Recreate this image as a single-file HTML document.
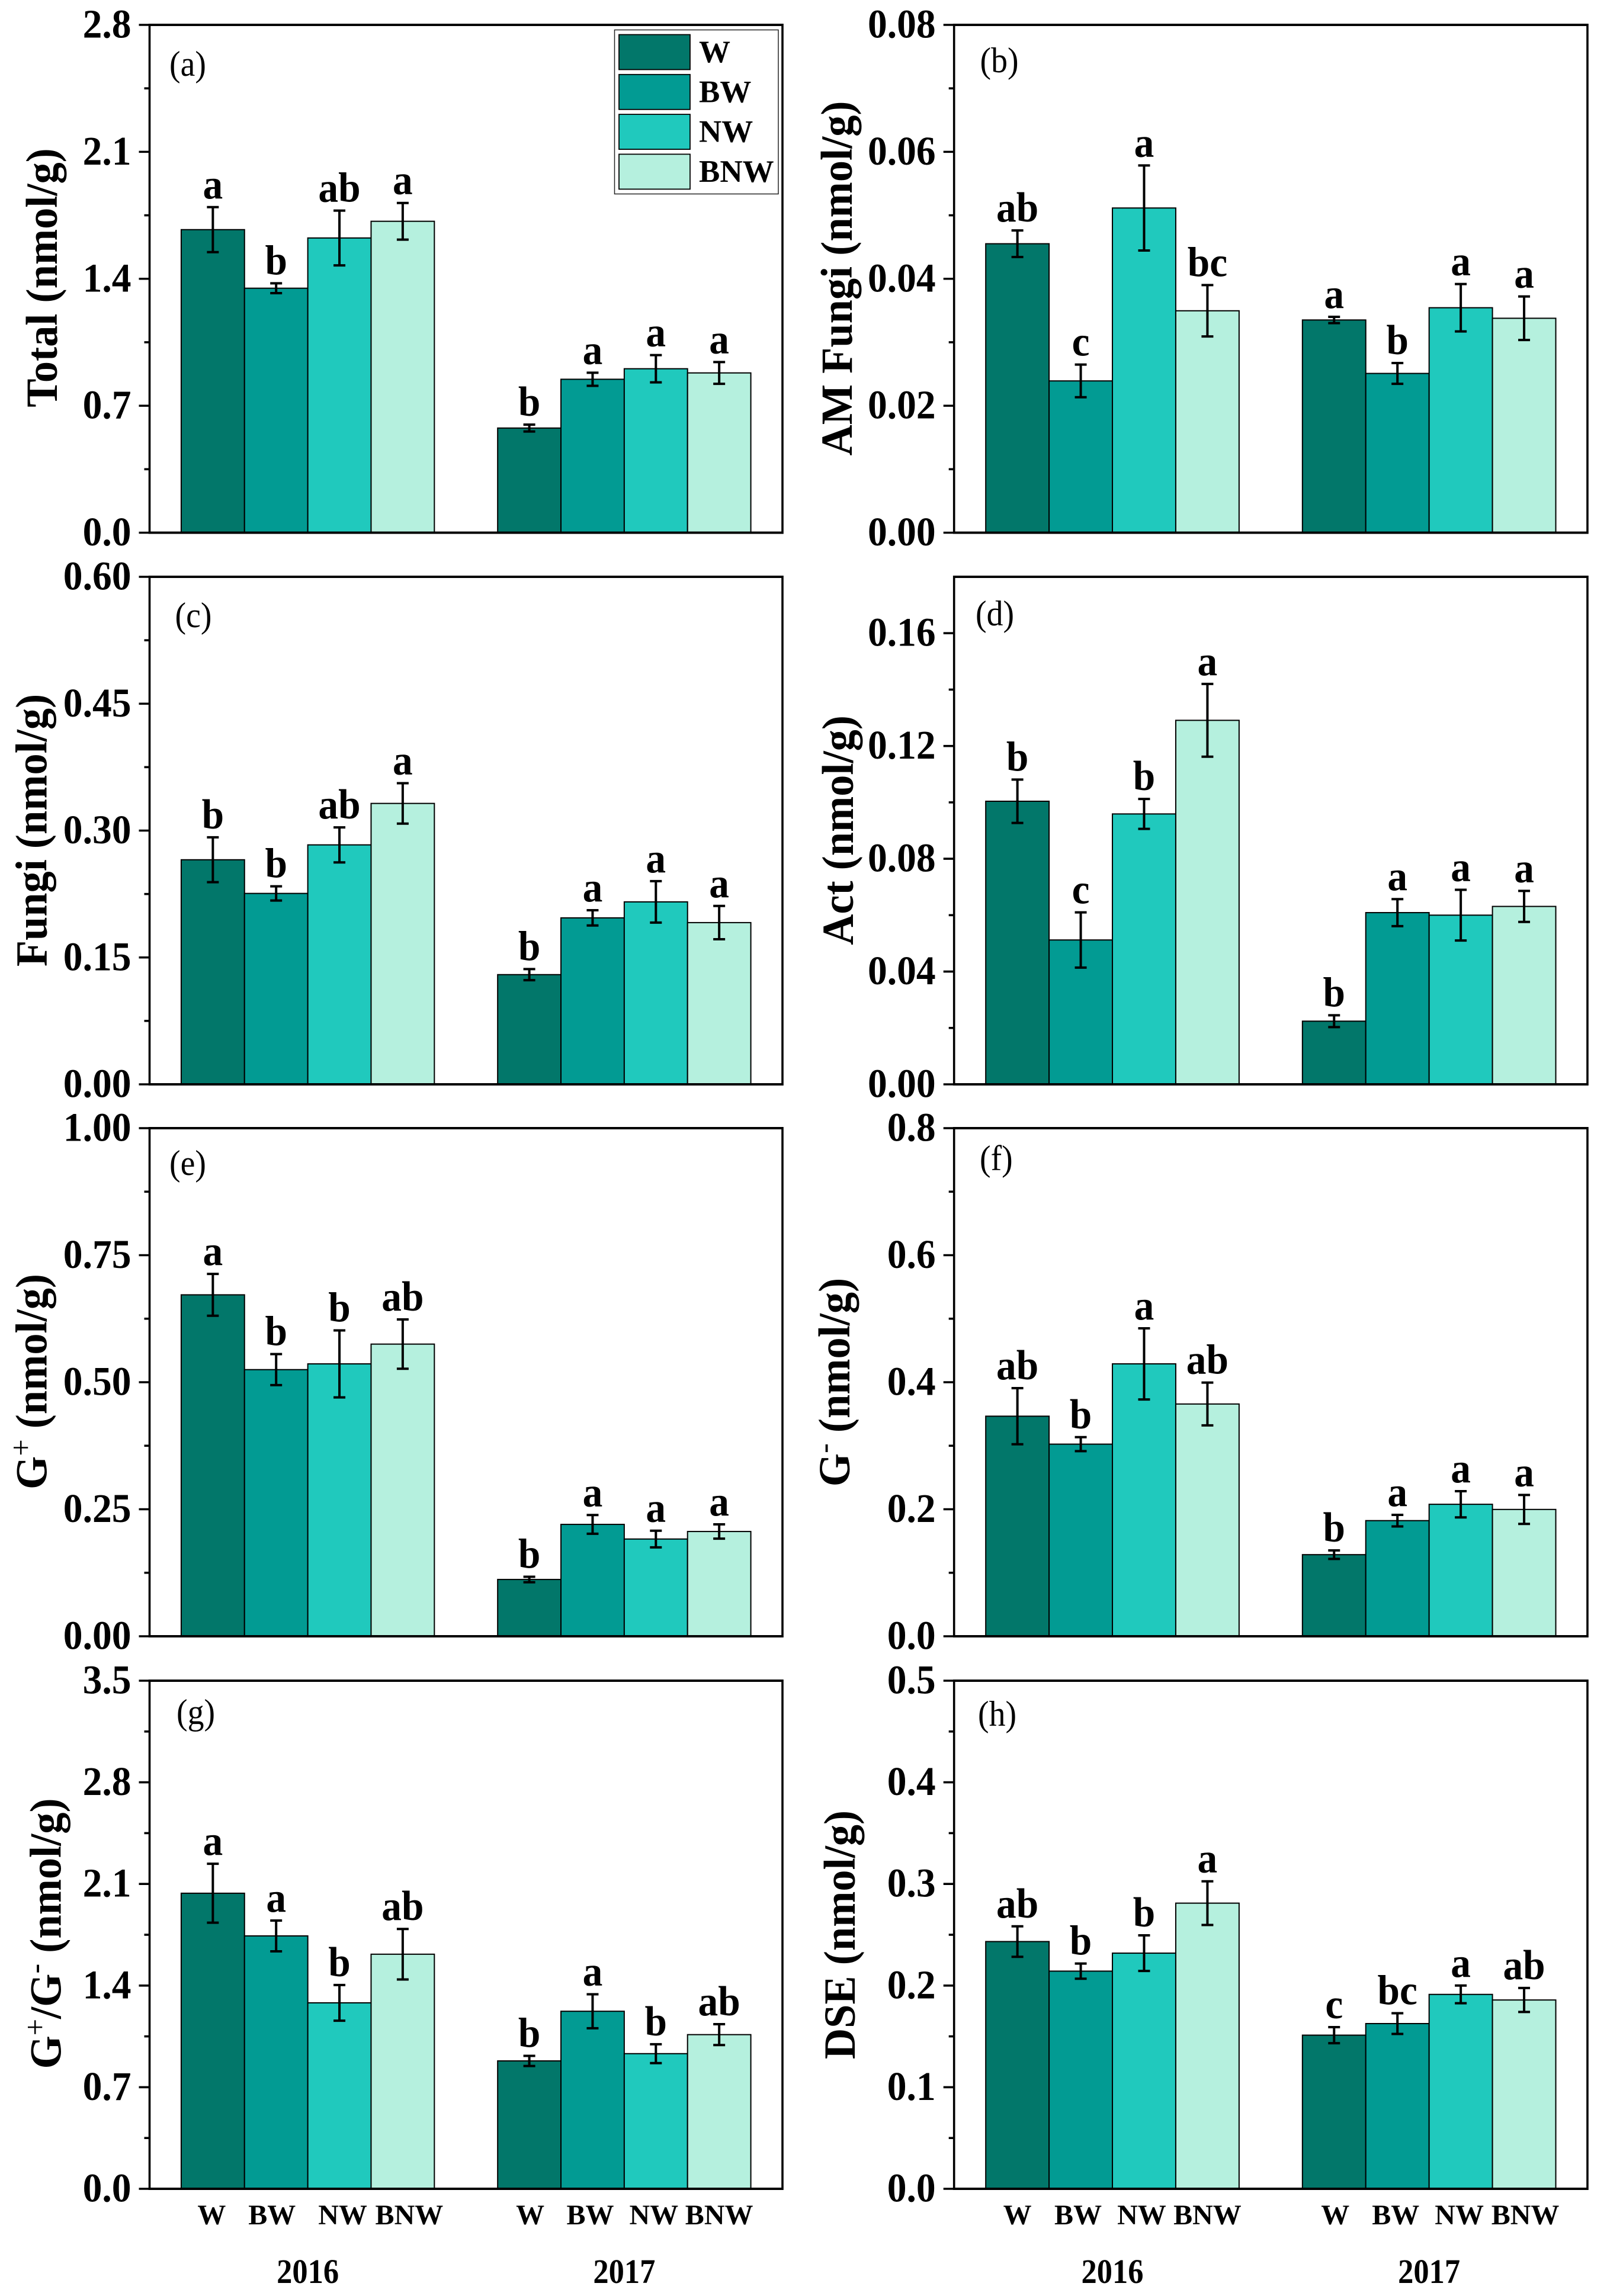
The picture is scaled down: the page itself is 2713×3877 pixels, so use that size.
<!DOCTYPE html>
<html lang="en">
<head>
<meta charset="utf-8">
<title>PLFA biomarker bar charts</title>
<style>
html,body{margin:0;padding:0;background:#fff;}
svg{display:block;}
text{font-family:"Liberation Serif",serif;fill:#000;}
</style>
</head>
<body>
<svg id="figure" xmlns="http://www.w3.org/2000/svg" width="2713" height="3877" viewBox="0 0 2713 3877"></svg>
<script>
const categories = ['W', 'BW', 'NW', 'BNW'];
const years = ['2016', '2017'];

const totalTicks = ['0.0', '0.7', '1.4', '2.1', '2.8'];
const totalValues = [1.671, 1.348, 1.625, 1.717, 0.577, 0.846, 0.904, 0.881];
const totalErrors = [0.124, 0.027, 0.151, 0.101, 0.019, 0.036, 0.075, 0.060];
const totalLetters = ['a', 'b', 'ab', 'a', 'b', 'a', 'a', 'a'];

const amFungiTicks = ['0.00', '0.02', '0.04', '0.06', '0.08'];
const amFungiValues = [0.04552, 0.02391, 0.05115, 0.03496, 0.03351, 0.02509, 0.03544, 0.03378];
const amFungiErrors = [0.00209, 0.00257, 0.0067, 0.00405, 0.0005, 0.00164, 0.00373, 0.00343];
const amFungiLetters = ['ab', 'c', 'a', 'bc', 'a', 'b', 'a', 'a'];

const fungiTicks = ['0.00', '0.15', '0.30', '0.45', '0.60'];
const fungiValues = [0.2655, 0.2257, 0.2831, 0.3321, 0.1297, 0.1968, 0.2157, 0.1912];
const fungiErrors = [0.0265, 0.0084, 0.0207, 0.0239, 0.0066, 0.009, 0.0245, 0.0197];
const fungiLetters = ['b', 'b', 'ab', 'a', 'b', 'a', 'a', 'a'];

const actTicks = ['0.00', '0.04', '0.08', '0.12', '0.16'];
const actValues = [0.1004, 0.0512, 0.0959, 0.1291, 0.0224, 0.0609, 0.06, 0.0631];
const actErrors = [0.0077, 0.0098, 0.0053, 0.0129, 0.0021, 0.0048, 0.009, 0.0055];
const actLetters = ['b', 'c', 'b', 'a', 'b', 'a', 'a', 'a'];

const gPosTicks = ['0.00', '0.25', '0.50', '0.75', '1.00'];
const gPosValues = [0.672, 0.5248, 0.5361, 0.575, 0.1118, 0.2202, 0.1914, 0.2062];
const gPosErrors = [0.0412, 0.0305, 0.0659, 0.0485, 0.0054, 0.0184, 0.0164, 0.0141];
const gPosLetters = ['a', 'b', 'b', 'ab', 'b', 'a', 'a', 'a'];

const gNegTicks = ['0.0', '0.2', '0.4', '0.6', '0.8'];
const gNegValues = [0.3465, 0.3025, 0.4289, 0.3657, 0.1285, 0.1821, 0.2078, 0.1997];
const gNegErrors = [0.0442, 0.011, 0.056, 0.0337, 0.0067, 0.0091, 0.0206, 0.0228];
const gNegLetters = ['ab', 'b', 'a', 'ab', 'b', 'a', 'a', 'a'];

const ratioTicks = ['0.0', '0.7', '1.4', '2.1', '2.8', '3.5'];
const ratioValues = [2.036, 1.742, 1.281, 1.616, 0.881, 1.223, 0.931, 1.062];
const ratioErrors = [0.203, 0.106, 0.123, 0.174, 0.035, 0.117, 0.065, 0.072];
const ratioLetters = ['a', 'a', 'b', 'ab', 'b', 'a', 'b', 'ab'];

const dseTicks = ['0.0', '0.1', '0.2', '0.3', '0.4', '0.5'];
const dseValues = [0.2433, 0.2142, 0.2319, 0.2811, 0.1512, 0.1626, 0.1913, 0.1858];
const dseErrors = [0.015, 0.0075, 0.0175, 0.0215, 0.0079, 0.0102, 0.0087, 0.0118];
const dseLetters = ['ab', 'b', 'b', 'a', 'c', 'bc', 'a', 'ab'];

const NS = 'http://www.w3.org/2000/svg';
const svg = document.getElementById('figure');
const COLORS = ['#02776A', '#029B93', '#20C9BD', '#B5F0DE'];
const COLS = [{ left: 252.5, right: 1321 }, { left: 1610.7, right: 2680 }];
const ROWS = [{ top: 42, bottom: 899.5 }, { top: 974, bottom: 1831 }, { top: 1905, bottom: 2763 }, { top: 2838, bottom: 3696 }];

function make(tag, parent, attrs, content) {
  const el = document.createElementNS(NS, tag);
  for (const key in attrs) el.setAttribute(key, attrs[key]);
  if (content !== undefined) el.textContent = content;
  parent.appendChild(el);
  return el;
}

function drawPanel(p) {
  const col = COLS[p.col];
  const row = ROWS[p.row];
  const maxTick = p.domainMax;
  const yAxis = v => row.bottom - (v / maxTick) * (row.bottom - row.top);
  const band = (col.right - col.left) / 10;
  const xAxis = i => col.left + (0.5 + (i % 4) + Math.floor(i / 4) * 5) * band;

  const g = make('g', svg, {});
  
  

  p.values.forEach((v, i) => {
    const bar = make('rect', g, {
      x: xAxis(i), y: yAxis(v), width: band, height: row.bottom - yAxis(v),
      fill: COLORS[i % 4], stroke: '#000', 'stroke-width': 2
    });
    
    
  });

  p.values.forEach((v, i) => {
    const cx = xAxis(i) + band / 2;
    const hi = yAxis(v + p.errors[i]);
    const lo = yAxis(v - p.errors[i]);
    const err = make('path', g, {
      d: 'M' + (cx - 10) + ' ' + hi + 'H' + (cx + 10) + 'M' + cx + ' ' + hi + 'V' + lo + 'M' + (cx - 10) + ' ' + lo + 'H' + (cx + 10),
      fill: 'none', stroke: '#000', 'stroke-width': 4
    });
    
    

    const letter = make('text', g, {
      transform: 'translate(' + cx + ' ' + (hi - 15) + ') scale(.95 1)',
      'text-anchor': 'middle', 'font-size': 71, 'font-weight': 'bold'
    }, p.letters[i]);
    
    
  });

  const frame = make('path', g, {
    d: 'M' + col.left + ' ' + row.top + 'H' + col.right + 'M' + col.left + ' ' + row.bottom + 'H' + col.right,
    fill: 'none', stroke: '#000', 'stroke-width': 4
  });
  
  
  const sides = make('path', g, {
    d: 'M' + col.left + ' ' + (row.top - 2) + 'V' + (row.bottom + 2) + 'M' + col.right + ' ' + (row.top - 2) + 'V' + (row.bottom + 2),
    fill: 'none', stroke: '#000', 'stroke-width': 3.6
  });
  
  

  p.ticks.forEach((label, i) => {
    const v = parseFloat(label);
    const y = yAxis(v);
    const tick = make('line', g, {
      x1: col.left - 18, x2: col.left, y1: y, y2: y, stroke: '#000', 'stroke-width': 3.6
    });
    
    
    const t = make('text', g, {
      transform: 'translate(' + (col.left - 31) + ' ' + (y + 21.5) + ') scale(.95 1)',
      'text-anchor': 'end', 'font-size': 69, 'font-weight': 'bold'
    }, label);
    
    
    if (i < p.ticks.length - 1) {
      const my = yAxis((v + parseFloat(p.ticks[i + 1])) / 2);
      const minor = make('line', g, {
        x1: col.left - 9, x2: col.left, y1: my, y2: my, stroke: '#000', 'stroke-width': 3.6
      });
      
      
    }
  });

  const title = make('text', g, {
    transform: 'translate(' + p.titleX + ' ' + p.titleY + ') rotate(-90) scale(.965 1)',
    'text-anchor': 'middle', 'font-size': 75, 'font-weight': 'bold'
  });
  
  
  p.title.forEach(part => {
    make('tspan', title, part.sup ? { 'font-size': 52, 'font-weight': 'normal', dy: -26 } : (part.after ? { dy: 26 } : {}), part.text);
  });

  const tag = make('text', g, {
    transform: 'translate(' + p.tagX + ' ' + p.tagY + ') scale(.93 1)',
    'font-size': 60
  }, '(' + p.id + ')');
  
  
}

function drawXLabels(colIndex, nudges) {
  const col = COLS[colIndex];
  const band = (col.right - col.left) / 10;
  const g = make('g', svg, {});
  
  
  years.forEach((year, yi) => {
    categories.forEach((cat, ci) => {
      const cx = col.left + (1 + ci + yi * 5) * band + nudges[yi * 4 + ci];
      const t = make('text', g, { x: cx, y: 3756, 'text-anchor': 'middle', 'font-size': 48, 'font-weight': 'bold' }, cat);
      
      
    });
    const yc = col.left + (2.5 + yi * 5) * band;
    const yt = make('text', g, { x: yc, y: 3855, 'text-anchor': 'middle', 'font-size': 58, 'font-weight': 'bold', textLength: 105, lengthAdjust: 'spacingAndGlyphs' }, year);
    
    
  });
}

function drawLegend() {
  const g = make('g', svg, {});
  
  
  const box = make('rect', g, { x: 1037.5, y: 50.5, width: 276.5, height: 277, fill: '#fff', stroke: '#222', 'stroke-width': 1.5 });
  
  
  categories.forEach((cat, i) => {
    const sy = 58.5 + i * 67.3;
    const sw = make('rect', g, { x: 1045, y: sy, width: 120, height: 59, fill: COLORS[i], stroke: '#000', 'stroke-width': 1.8 });
    
    
    const t = make('text', g, { x: 1180, y: 105 + i * 67.3, 'font-size': 53, 'font-weight': 'bold' }, cat);
    
    
  });
}

const unit = [{ text: ' (nmol/g)', after: true }];
drawPanel({ id: 'a', col: 0, row: 0, domainMax: 2.8, ticks: totalTicks, values: totalValues, errors: totalErrors, letters: totalLetters, title: [{ text: 'Total (nmol/g)' }], titleX: 96, titleY: 469, tagX: 286, tagY: 128 });
drawPanel({ id: 'b', col: 1, row: 0, domainMax: 0.08, ticks: amFungiTicks, values: amFungiValues, errors: amFungiErrors, letters: amFungiLetters, title: [{ text: 'AM Fungi (nmol/g)' }], titleX: 1438, titleY: 470, tagX: 1654.5, tagY: 122 });
drawPanel({ id: 'c', col: 0, row: 1, domainMax: 0.6, ticks: fungiTicks, values: fungiValues, errors: fungiErrors, letters: fungiLetters, title: [{ text: 'Fungi (nmol/g)' }], titleX: 78.6, titleY: 1402, tagX: 295.5, tagY: 1059 });
drawPanel({ id: 'd', col: 1, row: 1, domainMax: 0.18, ticks: actTicks, values: actValues, errors: actErrors, letters: actLetters, title: [{ text: 'Act (nmol/g)' }], titleX: 1440, titleY: 1402, tagX: 1647, tagY: 1056 });
drawPanel({ id: 'e', col: 0, row: 2, domainMax: 1, ticks: gPosTicks, values: gPosValues, errors: gPosErrors, letters: gPosLetters, title: [{ text: 'G' }, { text: '+', sup: true }].concat(unit), titleX: 78.6, titleY: 2333, tagX: 286, tagY: 1984 });
drawPanel({ id: 'f', col: 1, row: 2, domainMax: 0.8, ticks: gNegTicks, values: gNegValues, errors: gNegErrors, letters: gNegLetters, title: [{ text: 'G' }, { text: '-', sup: true }].concat(unit), titleX: 1434, titleY: 2334, tagX: 1654, tagY: 1976 });
drawPanel({ id: 'g', col: 0, row: 3, domainMax: 3.5, ticks: ratioTicks, values: ratioValues, errors: ratioErrors, letters: ratioLetters, title: [{ text: 'G' }, { text: '+', sup: true }, { text: '/G', after: true }, { text: '-', sup: true }].concat(unit), titleX: 102.7, titleY: 3265, tagX: 298, tagY: 2911 });
drawPanel({ id: 'h', col: 1, row: 3, domainMax: 0.5, ticks: dseTicks, values: dseValues, errors: dseErrors, letters: dseLetters, title: [{ text: 'DSE (nmol/g)' }], titleX: 1443, titleY: 3267, tagX: 1651, tagY: 2914 });
drawLegend();
drawXLabels(0, [-2, -7, 5.5, 11, 1.5, -4, -3.5, 0]);
drawXLabels(1, [0, -4.5, -4, 0, 2, -3, -2.5, 2]);
</script>
</body>
</html>
